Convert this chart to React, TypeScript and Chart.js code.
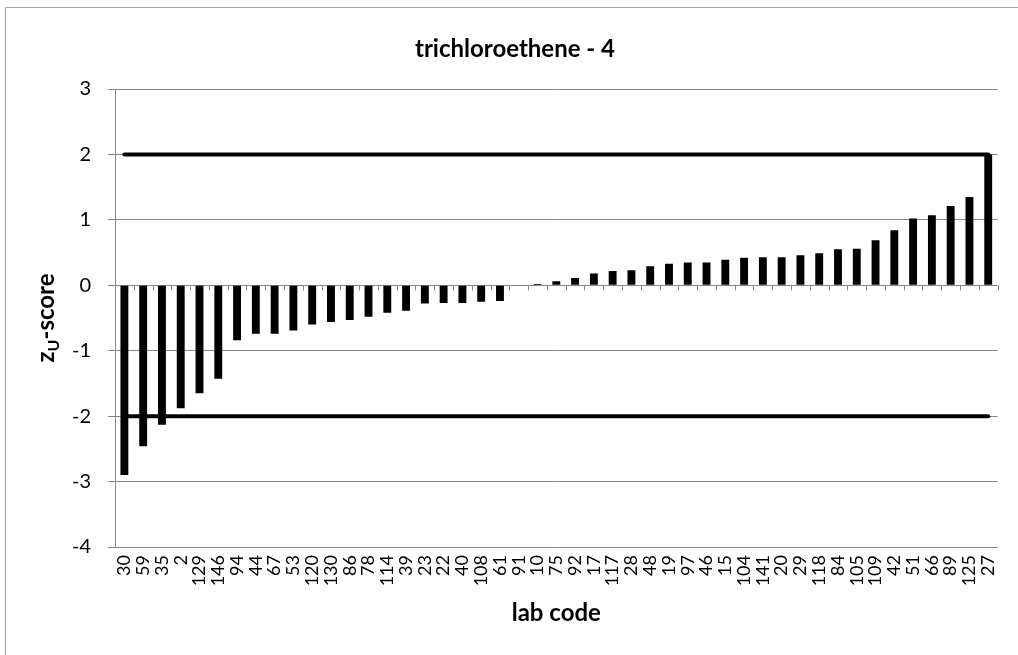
import React, { useEffect, useRef } from "react";
import { Chart, registerables } from "chart.js";

Chart.register(...registerables);

const labCodes = [
  "30", "59", "35", "2", "129", "146", "94", "44", "67", "53", "120", "130", "86", "78", "114", "39",
  "23", "22", "40", "108", "61", "91", "10", "75", "92", "17", "117", "28", "48", "19", "97", "46",
  "15", "104", "141", "20", "29", "118", "84", "105", "109", "42", "51", "66", "89", "125", "27",
];

const zScores = [
  -2.9, -2.46, -2.13, -1.88, -1.65, -1.43, -0.84, -0.74, -0.74, -0.69, -0.6, -0.56, -0.53, -0.48, -0.42, -0.39,
  -0.28, -0.27, -0.27, -0.25, -0.24, 0.01, 0.02, 0.06, 0.11, 0.18, 0.22, 0.23, 0.29, 0.33, 0.35, 0.35,
  0.39, 0.42, 0.43, 0.43, 0.46, 0.49, 0.55, 0.56, 0.69, 0.84, 1.02, 1.07, 1.21, 1.35, 2.0,
];

const upperLimit = 2;
const lowerLimit = -2;
const yMin = -4;
const yMax = 3;

const titleText = "trichloroethene - 4";
const xTitleText = "lab code";

const FONT = "Lato, 'Open Sans', sans-serif";
const GRID = "#868686";

const decor = {
  id: "decor",
  beforeDraw(chart: any) {
    const ctx = chart.ctx;
    ctx.save();
    ctx.fillStyle = "#ffffff";
    ctx.fillRect(0, 0, chart.width, chart.height);
    ctx.strokeStyle = "#a6a6a6";
    ctx.lineWidth = 1;
    ctx.strokeRect(5.5, 7.5, chart.width + 10, chart.height + 10);
    ctx.restore();
  },
  beforeDatasetsDraw(chart: any) {
    const ctx = chart.ctx;
    const area = chart.chartArea;
    const y0 = Math.round(chart.scales.y.getPixelForValue(0)) + 0.5;
    const n = labCodes.length;
    const step = (area.right - area.left) / n;
    ctx.save();
    ctx.strokeStyle = GRID;
    ctx.lineWidth = 1;
    ctx.beginPath();
    ctx.moveTo(area.left, y0);
    ctx.lineTo(area.right, y0);
    for (let i = 1; i <= n; i++) {
      const x = Math.round(area.left + i * step) + 0.5;
      ctx.moveTo(x, y0);
      ctx.lineTo(x, y0 + 5);
    }
    ctx.stroke();
    ctx.restore();
  },
  afterDraw(chart: any) {
    const ctx = chart.ctx;
    const area = chart.chartArea;
    ctx.save();
    ctx.fillStyle = "#000000";
    ctx.textAlign = "center";
    ctx.textBaseline = "middle";
    ctx.font = `bold 24px ${FONT}`;
    ctx.fillText(titleText, 515, 49);

    ctx.font = `bold 24px ${FONT}`;
    ctx.fillText(xTitleText, (area.left + area.right) / 2, 613);

    // y-axis title with subscript
    const big = `bold 24px ${FONT}`;
    const small = `bold 16px ${FONT}`;
    ctx.font = big;
    const wz = ctx.measureText("z").width;
    const wr = ctx.measureText("-score").width;
    ctx.font = small;
    const wu = ctx.measureText("U").width;
    const total = wz + wu + wr;
    ctx.translate(47, (area.top + area.bottom) / 2);
    ctx.rotate(-Math.PI / 2);
    ctx.textAlign = "left";
    ctx.textBaseline = "alphabetic";
    let x = -total / 2;
    ctx.font = big;
    ctx.fillText("z", x, 7);
    x += wz;
    ctx.font = small;
    ctx.fillText("U", x, 12);
    x += wu;
    ctx.font = big;
    ctx.fillText("-score", x, 7);
    ctx.restore();
  },
};

export default function App() {
  const canvasRef = useRef<HTMLCanvasElement | null>(null);

  useEffect(() => {
    const canvas = canvasRef.current;
    if (!canvas) return;
    const first = labCodes[0];
    const last = labCodes[labCodes.length - 1];
    const chart = new Chart(canvas, {
      type: "bar",
      data: {
        labels: labCodes,
        datasets: [
          {
            type: "line",
            data: [
              { x: first, y: upperLimit },
              { x: last, y: upperLimit },
            ],
            borderColor: "#000000",
            borderWidth: 4,
            borderCapStyle: "round",
            pointRadius: 0,
            order: 0,
          } as any,
          {
            type: "line",
            data: [
              { x: first, y: lowerLimit },
              { x: last, y: lowerLimit },
            ],
            borderColor: "#000000",
            borderWidth: 4,
            borderCapStyle: "round",
            pointRadius: 0,
            order: 0,
          } as any,
          {
            type: "bar",
            data: zScores,
            backgroundColor: "#000000",
            borderWidth: 0,
            barPercentage: 0.42,
            categoryPercentage: 1,
            order: 1,
          } as any,
        ],
      },
      options: {
        responsive: false,
        animation: false,
        devicePixelRatio: 1,
        layout: { padding: { top: 89, right: 17, bottom: 0, left: 0 } },
        plugins: {
          legend: { display: false },
          tooltip: { enabled: false },
          title: { display: false },
        },
        scales: {
          x: {
            type: "category",
            offset: true,
            grid: { display: false, drawTicks: false },
            border: { display: false },
            ticks: {
              autoSkip: false,
              minRotation: 90,
              maxRotation: 90,
              padding: 8,
              color: "#000000",
              font: { family: FONT, size: 18 },
            },
            afterFit(scale: any) {
              scale.height = 108;
            },
          },
          y: {
            min: yMin,
            max: yMax,
            grid: {
              color: GRID,
              lineWidth: 1,
              drawTicks: true,
              tickLength: 7,
              tickColor: GRID,
            },
            border: { display: true, color: GRID, width: 1 },
            ticks: {
              stepSize: 1,
              padding: 17,
              color: "#000000",
              font: { family: FONT, size: 20 },
            },
            afterFit(scale: any) {
              scale.width = 115;
            },
          },
        },
      },
      plugins: [decor],
    });
    return () => chart.destroy();
  }, []);

  return (
    <div style={{ position: "absolute", left: 0, top: 0, width: 1018, height: 655 }}>
      <canvas ref={canvasRef} width={1018} height={655} style={{ display: "block" }} />
    </div>
  );
}
